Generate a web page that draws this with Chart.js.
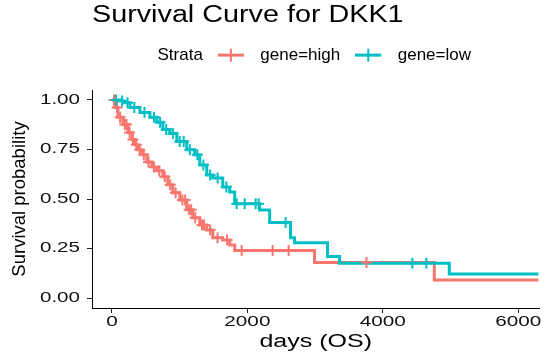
<!DOCTYPE html>
<html><head><meta charset="utf-8">
<script src="https://cdn.jsdelivr.net/npm/chart.js@4"></script>
<style>html,body{margin:0;padding:0;background:#fff}#wrap{width:547px;height:360px}</style>
</head><body><div id="wrap"><canvas id="c" width="547" height="360"></canvas></div>
<script>
// ---------- data ----------
const strataLabels = ['gene=high', 'gene=low'];
const highTime = [0, 44, 88, 162, 236, 295, 339, 383, 442, 516, 590, 663, 752, 825, 899, 1002, 1105, 1194, 1297, 1400, 1489, 1636, 1739, 1813, 2992, 4761, 6300];
const highSurv = [1.000, 0.962, 0.912, 0.876, 0.835, 0.800, 0.774, 0.748, 0.723, 0.687, 0.662, 0.642, 0.612, 0.572, 0.531, 0.495, 0.446, 0.405, 0.369, 0.344, 0.304, 0.293, 0.268, 0.240, 0.180, 0.091, 0.091];
const lowTime = [0, 118, 192, 265, 413, 560, 663, 752, 855, 958, 1105, 1223, 1297, 1400, 1489, 1636, 1739, 1813, 2181, 2329, 2638, 2697, 3184, 3361, 4982, 6300];
const lowSurv = [1.000, 0.995, 0.986, 0.962, 0.937, 0.912, 0.887, 0.851, 0.830, 0.790, 0.749, 0.723, 0.672, 0.621, 0.606, 0.561, 0.535, 0.476, 0.445, 0.381, 0.304, 0.279, 0.210, 0.176, 0.121, 0.121];
const highCensorTime = [30, 75, 120, 190, 215, 260, 310, 360, 410, 470, 540, 620, 700, 780, 860, 940, 1040, 1080, 1140, 1170, 1230, 1330, 1360, 1450, 1560, 1700, 1916, 2373, 2609, 3759];
const lowCensorTime = [60, 150, 230, 330, 480, 620, 710, 800, 900, 1000, 1060, 1150, 1260, 1350, 1450, 1560, 1690, 1843, 1960, 2122, 2166, 2565, 4437, 4643];
const xTickValues = [0, 2000, 4000, 6000];
const yTickValues = [0, 0.25, 0.5, 0.75, 1];

// ---------- styling ----------
const RED = '#F8766D', BLUE = '#00BFC4';
const FONT = "'Liberation Sans', Arial, Helvetica, sans-serif";
Chart.defaults.font.family = FONT;
Chart.defaults.color = '#000';

function survAt(times, surv, t) {
  let s = surv[0];
  for (let i = 0; i < times.length; i++) if (times[i] <= t) s = surv[i];
  return s;
}
function legendSymbol(color) {
  const c = document.createElement('canvas');
  c.width = 34; c.height = 17;
  if (color) {
    const g = c.getContext('2d');
    g.strokeStyle = color;
    g.lineWidth = 3;
    g.beginPath(); g.moveTo(0, 8.5); g.lineTo(26, 8.5); g.stroke();
    g.lineWidth = 2;
    g.beginPath(); g.moveTo(13, 2); g.lineTo(13, 15); g.stroke();
  }
  return c;
}
const symBlank = legendSymbol(null), symHigh = legendSymbol(RED), symLow = legendSymbol(BLUE);

// horizontally widened text (the reference's lettering is wide)
function withStretch(ctx, sx, fn) {
  const own = Object.prototype.hasOwnProperty.call(ctx, 'fillText');
  const prev = ctx.fillText;
  ctx.fillText = function (text, x, y, maxWidth) {
    this.save(); this.translate(x, y); this.scale(sx, 1);
    if (maxWidth === undefined) prev.call(this, text, 0, 0);
    else prev.call(this, text, 0, 0, maxWidth / sx);
    this.restore();
  };
  try { return fn(); } finally { if (own) ctx.fillText = prev; else delete ctx.fillText; }
}
function wrapOnce(obj, name, sx) {
  if (!obj || obj['_wrapped_' + name]) return;
  const fn = obj[name];
  obj[name] = function (...args) { return withStretch(this.ctx, sx, () => fn.apply(this, args)); };
  obj['_wrapped_' + name] = true;
}
const stretchPlugin = {
  id: 'textStretch',
  beforeDraw(chart) {
    wrapOnce(chart.titleBlock, 'draw', 1.25);
    wrapOnce(chart.scales.x, 'drawLabels', 1.48);
    wrapOnce(chart.scales.x, 'drawTitle', 1.39);
    wrapOnce(chart.scales.y, 'drawLabels', 1.47);
  }
};
const legendShift = {
  id: 'legendShift',
  afterLayout(chart) { const l = chart.legend; if (l) { l.left += 8; l.right += 8; } }
};

new Chart(document.getElementById('c'), {
  type: 'line',
  data: {
    datasets: [
      { label: strataLabels[0], data: highTime.map((t, i) => ({ x: t, y: highSurv[i] })),
        borderColor: RED, backgroundColor: RED, borderWidth: 3, stepped: 'before', pointRadius: 0, fill: false, order: 3 },
      { label: strataLabels[1], data: lowTime.map((t, i) => ({ x: t, y: lowSurv[i] })),
        borderColor: BLUE, backgroundColor: BLUE, borderWidth: 3, stepped: 'before', pointRadius: 0, fill: false, order: 2 },
      { label: strataLabels[0] + ' censor', data: highCensorTime.map(t => ({ x: t, y: survAt(highTime, highSurv, t) })),
        showLine: false, pointStyle: 'cross', pointRadius: 5.5, pointBorderWidth: 2, borderColor: RED, backgroundColor: RED, order: 1 },
      { label: strataLabels[1] + ' censor', data: lowCensorTime.map(t => ({ x: t, y: survAt(lowTime, lowSurv, t) })),
        showLine: false, pointStyle: 'cross', pointRadius: 5.5, pointBorderWidth: 2, borderColor: BLUE, backgroundColor: BLUE, order: 0 }
    ]
  },
  options: {
    responsive: false, animation: false, devicePixelRatio: 1, events: [],
    layout: { padding: { top: 0, left: 0, right: 6, bottom: 0 } },
    plugins: {
      tooltip: { enabled: false },
      title: { display: true, text: 'Survival Curve for DKK1', align: 'start', fullSize: false, color: '#000',
        font: { size: 23, weight: 'normal', lineHeight: 1.2 }, padding: { top: 1.5, bottom: 2.5 } },
      subtitle: { display: true, text: '', position: 'top', weight: 500, fullSize: false, padding: 0,
        font: { size: 16.4, lineHeight: 1 } },
      legend: {
        display: true, position: 'top', align: 'start', fullSize: false, onClick: null,
        labels: {
          usePointStyle: true, pointStyleWidth: 34, boxWidth: 34, boxHeight: 17, padding: 15,
          font: { size: 17 }, color: '#000',
          generateLabels: () => [
            { text: 'Strata', pointStyle: symBlank, fillStyle: 'transparent', strokeStyle: 'transparent', lineWidth: 0, hidden: false, fontColor: '#000' },
            { text: strataLabels[0], pointStyle: symHigh, fillStyle: RED, strokeStyle: RED, lineWidth: 0, hidden: false, fontColor: '#000', datasetIndex: 0 },
            { text: strataLabels[1], pointStyle: symLow, fillStyle: BLUE, strokeStyle: BLUE, lineWidth: 0, hidden: false, fontColor: '#000', datasetIndex: 1 }
          ]
        }
      }
    },
    scales: {
      x: {
        type: 'linear', min: -295, max: 6315, offset: false,
        afterBuildTicks: s => { s.ticks = xTickValues.map(v => ({ value: v })); },
        afterFit: s => { s.height = 52; },
        grid: { drawOnChartArea: false, drawTicks: true, tickLength: 5, tickColor: '#222', tickWidth: 1 },
        border: { display: true, color: '#000', width: 1 },
        ticks: { autoSkip: false, maxRotation: 0, padding: 1, color: '#111', font: { size: 14 }, callback: v => String(v) },
        title: { display: true, text: 'days (OS)', color: '#000', font: { size: 18 }, padding: { top: 0, bottom: 7.4 } }
      },
      y: {
        type: 'linear', min: -0.05, max: 1.05,
        afterBuildTicks: s => { s.ticks = yTickValues.map(v => ({ value: v })); },
        afterFit: s => { s.width = 92; },
        grid: { drawOnChartArea: false, drawTicks: true, tickLength: 5, tickColor: '#222', tickWidth: 1 },
        border: { display: true, color: '#000', width: 1 },
        ticks: { autoSkip: false, padding: 7, color: '#111', font: { size: 14 }, callback: v => Number(v).toFixed(2) },
        title: { display: true, text: 'Survival probability', color: '#000', font: { size: 18.5 }, padding: { top: 8.4, bottom: 0 } }
      }
    }
  },
  plugins: [stretchPlugin, legendShift]
});
</script></body></html>
